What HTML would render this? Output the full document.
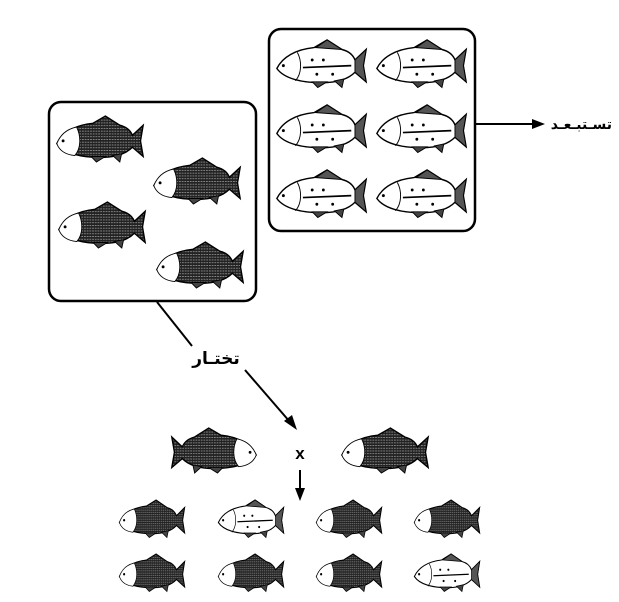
<!DOCTYPE html>
<html><head><meta charset="utf-8"><style>
body{margin:0;background:#fff;width:619px;height:597px;overflow:hidden}
</style></head><body>
<svg width="619" height="597" viewBox="0 0 619 597" xmlns="http://www.w3.org/2000/svg">
<defs>
<pattern id="h" width="3" height="3" patternUnits="userSpaceOnUse">
<rect width="3" height="3" fill="#222"/><rect x="0" y="1" width="2" height="1" fill="#888"/>
</pattern>
<path id="body" d="M2,30 C8,18 22,10 42,8 L56,0 L72,10 C80,12 84,16 86,21 L98,10 L95,27 L98,44 L86,34 C80,40 70,45 50,45 C30,45 10,41 2,30 Z"/>
<g id="dark">
<use href="#body" fill="url(#h)" stroke="#000" stroke-width="1.5"/>
<path d="M2,30 C6,20 14,14 24,12 C29,22 29,35 22,43 C12,42 5,38 2,30 Z" fill="#fff" stroke="#000"/>
<circle cx="9" cy="27" r="1.6" fill="#000"/>
<path d="M40,44 L46,50 L56,44 Z M64,43 L72,50 L74,41 Z" fill="#444" stroke="#000"/>
</g>
<g id="light">
<use href="#body" fill="#fff" stroke="#000" stroke-width="1.5"/>
<path d="M44,8 L56,0 L72,10 Z M86,21 L98,10 L95,27 L98,44 L86,34 Z" fill="#555" stroke="#000"/>
<circle cx="9" cy="27" r="1.6" fill="#000"/>
<path d="M24,13 C29,22 29,35 22,43" fill="none" stroke="#000"/>
<path d="M30,29 L82,27" stroke="#000" stroke-width="1.8"/>
<circle cx="40" cy="21" r="1.5" fill="#000"/><circle cx="52" cy="21" r="1.5" fill="#000"/><circle cx="45" cy="36" r="1.5" fill="#000"/><circle cx="62" cy="36" r="1.5" fill="#000"/>
<path d="M40,44 L46,50 L56,44 Z M64,43 L72,50 L74,41 Z" fill="#444" stroke="#000"/>
</g>
</defs>
<rect x="49" y="102" width="207" height="199" rx="12" fill="none" stroke="#000" stroke-width="2.5"/>
<rect x="269" y="29" width="206" height="202" rx="12" fill="none" stroke="#000" stroke-width="2.5"/>

<use href="#dark" transform="translate(55,116) scale(0.9,0.92)"/>
<use href="#dark" transform="translate(152,158) scale(0.9,0.92)"/>
<use href="#dark" transform="translate(57,202) scale(0.9,0.92)"/>
<use href="#dark" transform="translate(155,242) scale(0.9,0.92)"/>

<use href="#light" transform="translate(275,40) scale(0.93,0.95)"/>
<use href="#light" transform="translate(375,40) scale(0.93,0.95)"/>
<use href="#light" transform="translate(275,105) scale(0.93,0.95)"/>
<use href="#light" transform="translate(375,105) scale(0.93,0.95)"/>
<use href="#light" transform="translate(275,170) scale(0.93,0.95)"/>
<use href="#light" transform="translate(375,170) scale(0.93,0.95)"/>

<line x1="476" y1="124" x2="535" y2="124" stroke="#000" stroke-width="2"/>
<path d="M545,124 L532,119 L532,129 Z" fill="#000"/>
<text x="612" y="129" font-family="Liberation Sans, DejaVu Sans, sans-serif" font-size="14" font-weight="bold" text-anchor="start" direction="rtl">تسـتبـعـد</text>

<line x1="157" y1="302" x2="192" y2="346" stroke="#000" stroke-width="2"/>
<text x="216" y="364" font-family="Liberation Sans, DejaVu Sans, sans-serif" font-size="17" font-weight="bold" text-anchor="middle">تختـار</text>
<line x1="245" y1="370" x2="290" y2="422" stroke="#000" stroke-width="2"/>
<path d="M297,430 L284,421 L292,415 Z" fill="#000"/>

<use href="#dark" transform="translate(258,428) scale(-0.88,0.9)"/>
<use href="#dark" transform="translate(340,428) scale(0.9,0.9)"/>
<text x="300" y="459" font-family="Liberation Sans, sans-serif" font-size="17" font-weight="bold" text-anchor="middle">x</text>
<line x1="300" y1="470" x2="300" y2="490" stroke="#000" stroke-width="2"/>
<path d="M300,501 L295,488 L305,488 Z" fill="#000"/>

<use href="#dark" transform="translate(118,500) scale(0.68,0.75)"/>
<use href="#light" transform="translate(217,500) scale(0.68,0.75)"/>
<use href="#dark" transform="translate(315,500) scale(0.68,0.75)"/>
<use href="#dark" transform="translate(413,500) scale(0.68,0.75)"/>
<use href="#dark" transform="translate(118,554) scale(0.68,0.75)"/>
<use href="#dark" transform="translate(217,554) scale(0.68,0.75)"/>
<use href="#dark" transform="translate(315,554) scale(0.68,0.75)"/>
<use href="#light" transform="translate(413,554) scale(0.68,0.75)"/>
</svg>
</body></html>
